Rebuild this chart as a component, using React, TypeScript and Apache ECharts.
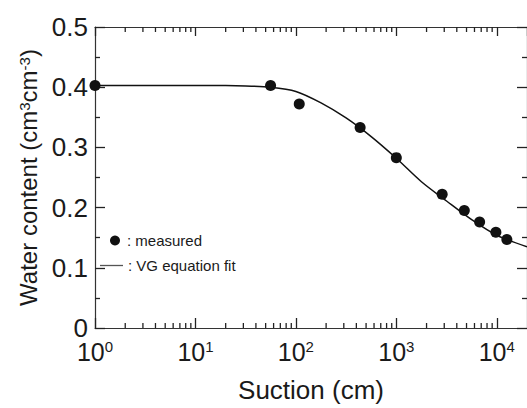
import React, { useEffect, useRef } from 'react';
import * as echarts from 'echarts';

// Measured points (suction in cm, volumetric water content)
const suctionMeasured = [1, 56, 108, 436, 1000, 2860, 4750, 6750, 9800, 12600];
const thetaMeasured = [0.403, 0.403, 0.372, 0.333, 0.283, 0.222, 0.195, 0.176, 0.159, 0.147];

// VG equation fit curve
const suctionFit = [1, 10, 20, 31.6, 56, 100, 178, 316, 562, 1000, 1778, 3162, 5623, 10000, 20000];
const thetaFit = [0.403, 0.403, 0.4028, 0.402, 0.4, 0.393, 0.374, 0.349, 0.318, 0.282, 0.243, 0.211, 0.18, 0.154, 0.135];

// Axis ticks
const minorX = [
  2, 3, 4, 5, 6, 7, 8, 9,
  20, 30, 40, 50, 60, 70, 80, 90,
  200, 300, 400, 500, 600, 700, 800, 900,
  2000, 3000, 4000, 5000, 6000, 7000, 8000, 9000,
];
const xMin = 1;
const xMax = 20000;
const yMin = 0;
const yMax = 0.5;
const yInterval = 0.1;

const FONT = "'Liberation Sans', Arial, Helvetica, sans-serif";
const TXT = '#1a1a1a';
const AX = '#333';
const TK = '#222';

export default function App() {
  const ref = useRef<HTMLDivElement>(null);
  useEffect(() => {
    const chart = echarts.init(ref.current!, null, { renderer: 'svg' });
    const axLine = { color: AX, width: 1.2 };
    const tkLine = { color: TK, width: 1.3 };
    const xBase: any = {
      type: 'log',
      logBase: 10,
      min: xMin,
      max: xMax,
      gridIndex: 0,
      splitLine: { show: false },
      minorSplitLine: { show: false },
    };
    const yBase: any = {
      type: 'value',
      min: yMin,
      max: yMax,
      interval: yInterval,
      splitLine: { show: false },
      minorTick: { show: true, splitNumber: 2, length: 5, lineStyle: tkLine },
    };
    const isDecade = (v: number) => Math.abs(Math.log10(v) - Math.round(Math.log10(v))) < 1e-6;
    const option: any = {
      animation: false,
      backgroundColor: '#fff',
      textStyle: { fontFamily: FONT, color: TXT },
      grid: { left: 95, top: 27, width: 435, height: 310, containLabel: false },
      xAxis: [
        {
          ...xBase,
          position: 'bottom',
          axisLine: { show: true, onZero: false, lineStyle: axLine },
          axisTick: { show: true, inside: true, length: 10, lineStyle: tkLine },
          axisLabel: {
            margin: 11,
            showMaxLabel: false,
            formatter: (v: number) =>
              isDecade(v) ? `{a|10}{b|${Math.round(Math.log10(v))}}` : '',
            rich: {
              a: { fontSize: 25, fontFamily: FONT, color: TXT },
              b: { fontSize: 15, fontFamily: FONT, color: TXT, verticalAlign: 'top' },
            },
          },
          name: 'Suction (cm)',
          nameLocation: 'middle',
          nameGap: 49,
          nameTextStyle: { fontSize: 26, fontFamily: FONT, color: TXT },
        },
        {
          ...xBase,
          position: 'top',
          axisLine: { show: true, onZero: false, lineStyle: axLine },
          axisTick: { show: true, inside: true, length: 9, lineStyle: tkLine },
          axisLabel: { show: false },
        },
      ],
      yAxis: [
        {
          ...yBase,
          position: 'left',
          axisLine: { show: true, onZero: false, lineStyle: axLine },
          axisTick: { show: true, inside: true, length: 10, lineStyle: tkLine },
          axisLabel: { fontSize: 26, margin: 7, color: TXT, fontFamily: FONT },
          name: '{m|Water content (cm}{s|3}{m|cm}{s|-3}{m|)}',
          nameLocation: 'middle',
          nameRotate: 90,
          nameGap: 50,
          nameTextStyle: {
            fontSize: 24,
            fontFamily: FONT,
            color: TXT,
            rich: {
              m: { fontSize: 24, fontFamily: FONT, color: TXT },
              s: { fontSize: 15, fontFamily: FONT, color: TXT, verticalAlign: 'top' },
            },
          },
        },
        {
          ...yBase,
          position: 'right',
          axisLine: { show: true, onZero: false, lineStyle: axLine },
          axisTick: { show: true, inside: true, length: 10, lineStyle: tkLine },
          axisLabel: { show: false },
        },
      ],
      legend: [
        {
          data: [{ name: 'measured', icon: 'circle' }],
          orient: 'vertical',
          left: 110,
          top: 233,
          padding: 0,
          itemWidth: 14,
          itemHeight: 10,
          selectedMode: false,
          formatter: ': {name}',
          textStyle: { fontSize: 15, fontFamily: FONT, color: TXT },
        },
        {
          data: [{ name: 'VG equation fit', icon: 'rect', itemStyle: { color: '#555' } }],
          orient: 'vertical',
          left: 100,
          top: 258,
          padding: 0,
          itemWidth: 23,
          itemHeight: 1.3,
          selectedMode: false,
          formatter: ': {name}',
          textStyle: { fontSize: 15, fontFamily: FONT, color: TXT },
        },
      ],
      series: [
        {
          type: 'custom',
          name: 'minor ticks',
          xAxisIndex: 0,
          yAxisIndex: 0,
          silent: true,
          clip: false,
          data: minorX.map((v) => [v, yMin]),
          encode: { x: 0, y: 1 },
          renderItem: (_p: any, api: any) => {
            const x = api.value(0);
            const b = api.coord([x, yMin]);
            const t = api.coord([x, yMax]);
            const st = { stroke: TK, lineWidth: 1.3 };
            return {
              type: 'group',
              children: [
                { type: 'line', shape: { x1: b[0], y1: b[1], x2: b[0], y2: b[1] - 5 }, style: st },
                { type: 'line', shape: { x1: t[0], y1: t[1], x2: t[0], y2: t[1] + 5 }, style: st },
              ],
            };
          },
          z: 1,
        },
        {
          type: 'line',
          name: 'VG equation fit',
          xAxisIndex: 0,
          yAxisIndex: 0,
          data: suctionFit.map((s, i) => [s, thetaFit[i]]),
          symbol: 'none',
          smooth: 0.3,
          lineStyle: { color: '#111', width: 1.5 },
          itemStyle: { color: '#111' },
          z: 2,
        },
        {
          type: 'scatter',
          name: 'measured',
          xAxisIndex: 0,
          yAxisIndex: 0,
          data: suctionMeasured.map((s, i) => [s, thetaMeasured[i]]),
          symbol: 'circle',
          symbolSize: 11,
          itemStyle: { color: '#111', opacity: 1 },
          clip: false,
          z: 3,
        },
      ],
    };
    chart.setOption(option);
    return () => chart.dispose();
  }, []);
  return (
    <div
      ref={ref}
      style={{ position: 'absolute', left: 0, top: 0, width: 527, height: 408, background: '#fff' }}
    />
  );
}
